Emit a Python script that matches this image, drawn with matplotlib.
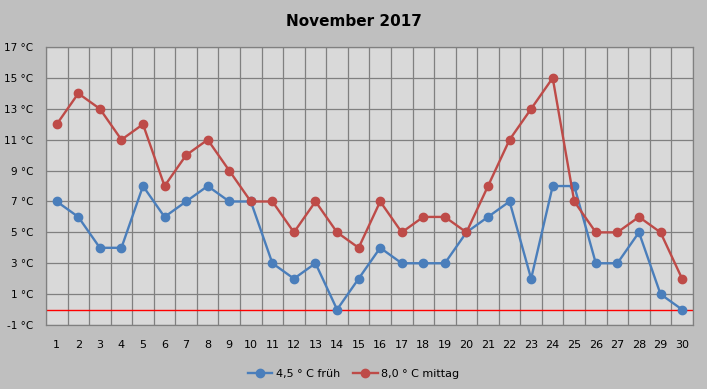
import numpy as np
import matplotlib.pyplot as plt

days = list(range(1, 31))
frueh = [7, 6, 4, 4, 8, 6, 7, 8, 7, 7, 3, 2, 3, 0, 2, 4, 3, 3, 3, 5,
         6, 7, 2, 8, 8, 3, 3, 5, 1, 0]
mittag = [12, 14, 13, 11, 12, 8, 10, 11, 9, 7, 7, 5, 7, 5, 4, 7, 5, 6, 6, 5,
          8, 11, 13, 15, 7, 5, 5, 6, 5, 2]
yticks = list(range(-1, 18, 2))

fig = plt.figure(figsize=(7.07, 3.89), dpi=100, facecolor="#BFBFBF")
ax = fig.add_axes([0.065, 0.1645, 0.915, 0.7145])
ax.set_facecolor("#D9D9D9")

ax.plot(days, frueh, color="#4A7EBB", lw=1.7, marker="o", ms=6, label="4,5 ° C früh", zorder=3)
ax.plot(days, mittag, color="#BE4B48", lw=1.7, marker="o", ms=6, label="8,0 ° C mittag", zorder=4)
ax.axhline(0, color="#FF0000", lw=1.0, zorder=2)

ax.set_xlim(0.5, 30.5)
ax.set_ylim(-1, 17)
ax.set_xticks(days)
ax.set_xticks(np.arange(0.5, 31, 1), minor=True)
ax.set_yticks(yticks)
ax.set_yticklabels([f"{v} °C" for v in yticks])
ax.grid(axis="x", which="minor", color="#808080", lw=0.9)
ax.grid(axis="y", which="major", color="#808080", lw=0.9)
ax.tick_params(which="both", length=0, labelsize=7.5, colors="black")
ax.tick_params(axis="x", pad=11, labelsize=8)
ax.tick_params(axis="y", pad=9)
for s in ax.spines.values():
    s.set_color("#808080")
    s.set_linewidth(0.9)

fig.suptitle("November 2017", fontsize=11, fontweight="bold", y=0.965)
fig.legend(loc="lower center", ncol=2, frameon=False, fontsize=8,
           bbox_to_anchor=(0.5, 0.0), handlelength=2.2, columnspacing=1.2,
           handletextpad=0.3)

fig.savefig("out.png", dpi=100, facecolor=fig.get_facecolor())
